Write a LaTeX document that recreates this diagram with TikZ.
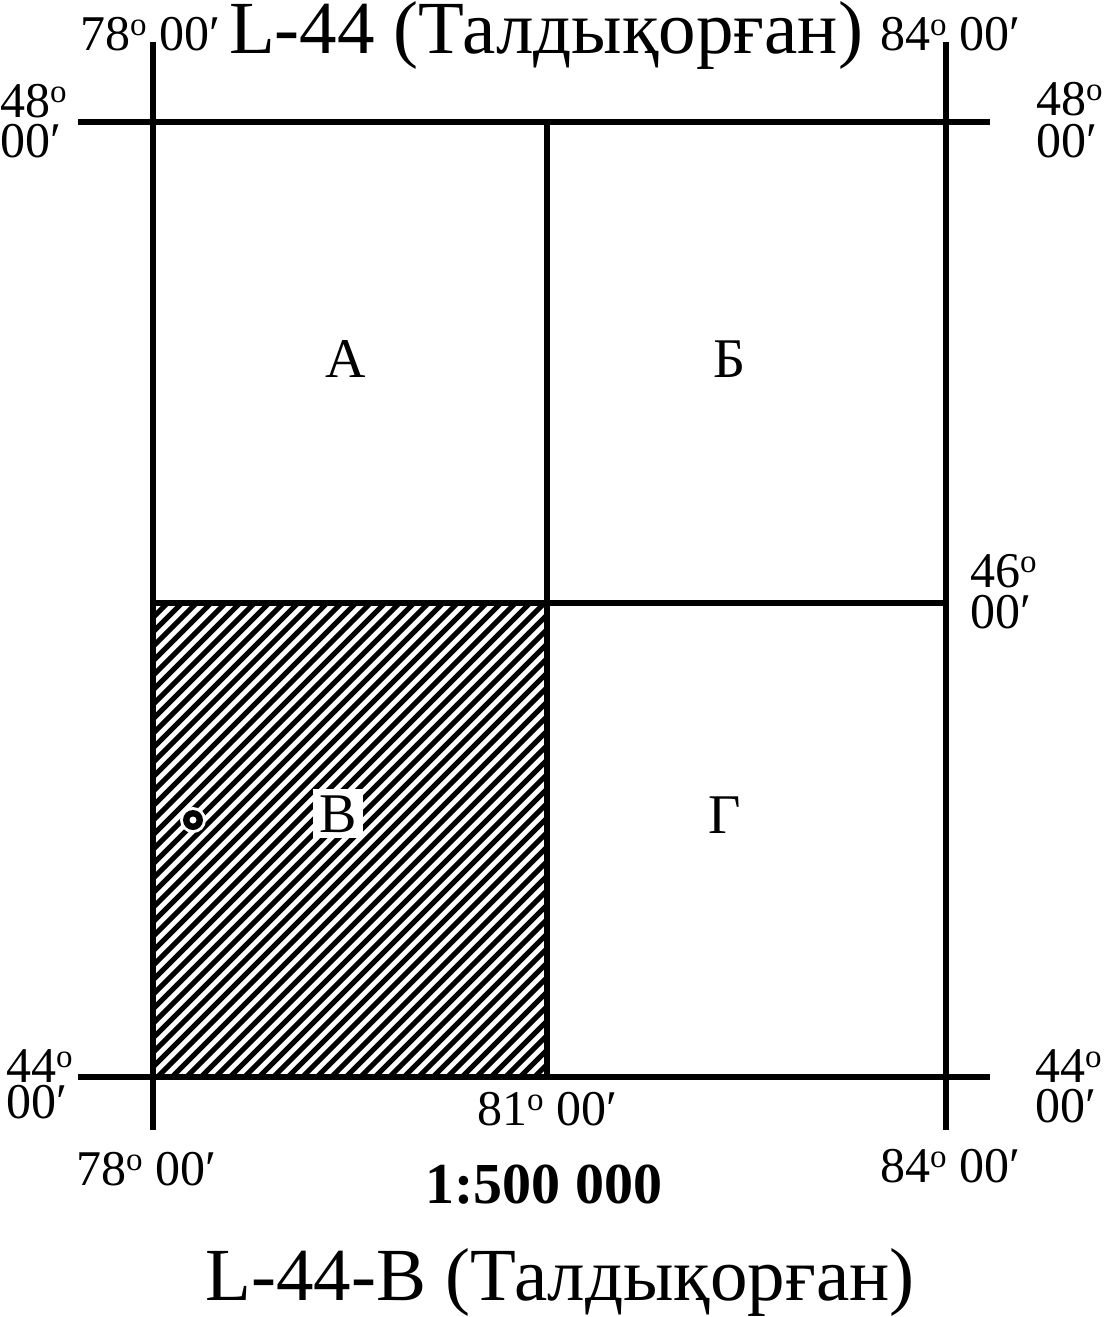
\documentclass[tikz,border=0pt]{standalone}
\usepackage{fontspec}
\setmainfont{Liberation Serif}
\newcommand\degO{\raisebox{15pt}{\fontsize{33}{33}\selectfont o}}
\begin{document}
\begin{tikzpicture}[x=1pt,y=-1pt,
  gridline/.style={line width=6pt},
  hatchline/.style={line width=5pt},
  lab/.style={inner sep=0pt, anchor=base west, font=\fontsize{50}{50}\selectfont},
  cell/.style={inner sep=0pt, anchor=base, font=\fontsize{56}{56}\selectfont},
  title/.style={inner sep=0pt, anchor=base, font=\fontsize{75}{75}\selectfont},
  scalelab/.style={inner sep=0pt, anchor=base, font=\fontsize{58}{58}\selectfont\bfseries}]
\useasboundingbox (0,0) rectangle (1104,1317);
% grid coordinates
\coordinate (w) at (153,603);
\coordinate (m) at (547,603);
\coordinate (e) at (946,603);
\coordinate (lt) at (153,42);  \coordinate (lb) at (153,1130);
\coordinate (rt) at (946,42);  \coordinate (rb) at (946,1130);
\coordinate (mt) at (547,122); \coordinate (mb) at (547,1077);
\coordinate (tl) at (78,122);  \coordinate (tr) at (990,122);
\coordinate (bl) at (78,1077); \coordinate (br) at (990,1077);
% hatched sheet
\begin{scope}
  \clip (153,603) rectangle (547,1077);
  \foreach \c in {756,770.5,...,1640} {
    \draw[hatchline] (\c-1077,1077) -- (\c-603,603);
  }
\end{scope}
% grid
\draw[gridline] (lt) -- (lb);
\draw[gridline] (rt) -- (rb);
\draw[gridline] (mt) -- (mb);
\draw[gridline] (tl) -- (tr);
\draw[gridline] (bl) -- (br);
\draw[gridline] (w) -- (e);
% marker
\fill[white] (193,820) circle (13);
\fill[black] (193,820) circle (10);
\fill[white] (193,820) circle (3.5);
% cell letters
\node[cell] (cA) at (346,377) {А};
\node[cell] (cB) at (730,377) {Б};
\node[cell, fill=white, inner sep=6pt] (cV) at (338,832) {В};
\node[cell] (cG) at (725,833) {Г};
% titles
\node[title] (top) at (546,53) {L-44 (Талдықорған)};
\node[title] (bottom) at (560,1300) {L-44-В (Талдықорған)};
\node[scalelab] (scale) at (544,1203) {1:500 000};
% longitude labels
\node[lab] (lon1) at (80,50) {78\degO\ 00′};
\node[lab] (lon2) at (880,50) {84\degO\ 00′};
\node[lab] (lon3) at (76,1185) {78\degO\ 00′};
\node[lab] (lon4) at (880,1182) {84\degO\ 00′};
\node[lab] (lon5) at (477,1125) {81\degO\ 00′};
% latitude labels
\node[lab] (lat1a) at (0,117) {48\degO};
\node[lab] (lat1b) at (0,157) {00′};
\node[lab] (lat2a) at (1036,115) {48\degO};
\node[lab] (lat2b) at (1036,157) {00′};
\node[lab] (lat3a) at (970,587) {46\degO};
\node[lab] (lat3b) at (970,628) {00′};
\node[lab] (lat4a) at (6,1082) {44\degO};
\node[lab] (lat4b) at (6,1118) {00′};
\node[lab] (lat5a) at (1035,1082) {44\degO};
\node[lab] (lat5b) at (1035,1122) {00′};
\end{tikzpicture}
\end{document}
